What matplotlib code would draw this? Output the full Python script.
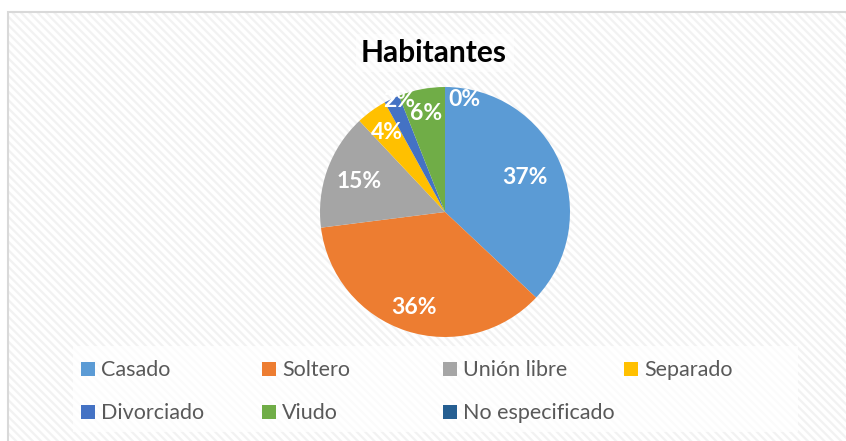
import matplotlib.pyplot as plt
from matplotlib.patches import Rectangle
import numpy as np

# datos del grafico
categorias = ['Casado', 'Soltero', 'Unión libre', 'Separado', 'Divorciado', 'Viudo', 'No especificado']
porcentajes = [37, 36, 15, 4, 2, 6, 0]
colores = ['#5B9BD5', '#ED7D31', '#A5A5A5', '#FFC000', '#4472C4', '#70AD47', '#255E91']

W, H = 846, 441
plt.rcParams['font.family'] = ['Lato', 'DejaVu Sans']
plt.rcParams['hatch.linewidth'] = 1.6
plt.rcParams['hatch.color'] = '#f2f2f2'

fig = plt.figure(figsize=(W / 100, H / 100), dpi=100)
fig.patch.set_facecolor('white')

def px(x, y, w, h):
    # caja en pixeles (origen arriba a la izquierda) -> fraccion de figura
    return (x / W, 1 - (y + h) / H, w / W, h / H)

# fondo rayado del area del grafico
x0, y0, w0, h0 = px(8, 12, 860, 440)
fig.patches.append(Rectangle((x0, y0), w0, h0, transform=fig.transFigure,
                             facecolor='white', edgecolor='#f2f2f2', hatch='\\\\\\\\',
                             linewidth=0, zorder=0))
fig.patches.append(Rectangle((x0, y0), w0, h0, transform=fig.transFigure,
                             facecolor='none', edgecolor='#d9d9d9', linewidth=1.5, zorder=1))

# caja blanca del titulo y de la leyenda
x1, y1, w1, h1 = px(356, 34, 158, 38)
fig.patches.append(Rectangle((x1, y1), w1, h1, transform=fig.transFigure,
                             facecolor='white', edgecolor='none', alpha=0.5, zorder=1))
x2, y2, w2, h2 = px(73, 346, 725, 86)
fig.patches.append(Rectangle((x2, y2), w2, h2, transform=fig.transFigure,
                             facecolor='white', edgecolor='none', alpha=0.75, zorder=1))

fig.text(434 / W, 1 - 62 / H, 'Habitantes', ha='center', va='baseline',
         fontsize=21.5, fontweight='bold', color='black', zorder=3)

# pastel
cx, cy, r = 445, 212, 125
ax = fig.add_axes(px(cx - r, cy - r, 2 * r, 2 * r))
ax.set_zorder(2)
wedges, _ = ax.pie(porcentajes, colors=colores, startangle=90, counterclock=False,
                   radius=1, wedgeprops=dict(linewidth=0))
ax.set_xlim(-1, 1)
ax.set_ylim(-1, 1)
ax.set_aspect('equal')
ax.axis('off')

dist = [0.70, 0.80, 0.73, 0.79, 0.965, 0.80, 0.91]
shift = [0, 0, 0, 0, -3, 0, -10]
for w, p, d, s in zip(wedges, porcentajes, dist, shift):
    ang = np.deg2rad((w.theta1 + w.theta2) / 2 + s)
    ax.text(d * np.cos(ang), d * np.sin(ang), f'{p}%', ha='center', va='center',
            fontsize=16.5, fontweight='bold', color='white')

# leyenda
for i, (cat, col) in enumerate(zip(categorias, colores)):
    fila, colu = divmod(i, 4)
    lx = 81 + colu * 181
    ly = 369 + fila * 43
    sx, sy, sw, sh = px(lx, ly - 7, 14, 14)
    fig.patches.append(Rectangle((sx, sy), sw, sh, transform=fig.transFigure,
                                 facecolor=col, edgecolor='none', zorder=3))
    fig.text((lx + 20) / W, 1 - (ly + 7) / H, cat, ha='left', va='baseline',
             fontsize=15.5, color='#595959', zorder=3)

fig.savefig('out.png', dpi=100)
